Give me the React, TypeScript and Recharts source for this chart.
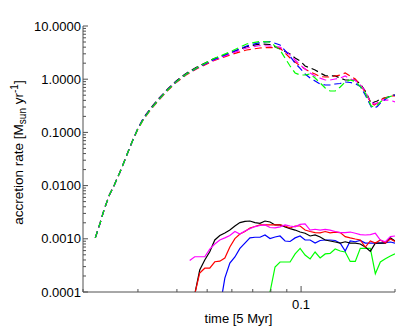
import { LineChart, Line, XAxis, YAxis } from 'recharts'

// time axis in units of 5 Myr, accretion rate in Msun/yr
const dashedTime = [
  0.0219, 0.0227, 0.0234, 0.0243, 0.0252, 0.0262, 0.027, 0.0279, 0.0289, 0.03, 0.0313, 0.0331,
  0.035, 0.0373, 0.0398, 0.0429, 0.0468, 0.0522, 0.0591, 0.0669, 0.0738, 0.0795, 0.0856,
  0.0922, 0.0957, 0.0993, 0.103, 0.1069, 0.1109, 0.1151, 0.1195, 0.1239, 0.1286, 0.1335, 0.1385,
  0.1437, 0.1492, 0.1548, 0.1606, 0.1642, 0.1679, 0.1716, 0.1755, 0.1795, 0.1849, 0.1904, 0.1962, 0.2,
]
const dashedBlack = [
  0.00104, 0.00198, 0.00363, 0.00665, 0.0103, 0.0173, 0.0266, 0.0434, 0.072, 0.12, 0.19, 0.295,
  0.435, 0.65, 0.93, 1.3, 1.74, 2.38, 3.11, 4.08, 4.59, 4.49, 3.7,
  2.98, 2.5, 2.2, 1.77, 1.63, 1.49, 1.31, 1.17, 1.15, 1.15, 1.05, 0.966,
  0.966, 0.966, 0.813, 0.6, 0.463, 0.342, 0.373, 0.389, 0.424, 0.443, 0.463, 0.505, 0.505,
]
const dashedRed = [
  0.00104, 0.00198, 0.00363, 0.00665, 0.0103, 0.0173, 0.0266, 0.0434, 0.072, 0.115, 0.178, 0.275,
  0.405, 0.607, 0.87, 1.21, 1.62, 2.2, 2.85, 3.54, 3.86, 3.95, 3.86,
  2.5, 2.11, 1.77, 1.56, 1.37, 1.25, 1.12, 1.1, 1.1, 1.15, 1.2, 1.31,
  1.15, 1.01, 0.778, 0.574, 0.443, 0.357, 0.327, 0.357, 0.406, 0.443, 0.463, 0.483, 0.483,
]
const dashedBlue = [
  0.00104, 0.00198, 0.00363, 0.00665, 0.0103, 0.0173, 0.0266, 0.0434, 0.072, 0.119, 0.184, 0.284,
  0.419, 0.627, 0.897, 1.25, 1.67, 2.3, 3.11, 4.21, 4.9, 5.11, 4.4,
  2.7, 2.0, 1.6, 1.25, 1.05, 0.925, 0.813, 0.778, 0.778, 0.813, 0.83, 0.886,
  0.868, 0.83, 0.73, 0.505, 0.389, 0.3, 0.288, 0.306, 0.357, 0.406, 0.463, 0.483, 0.505,
]
const dashedGreen = [
  0.00104, 0.00198, 0.00363, 0.00665, 0.0103, 0.0173, 0.0266, 0.0434, 0.072, 0.117, 0.18, 0.28,
  0.415, 0.62, 0.89, 1.25, 1.7, 2.4, 3.25, 4.59, 5.11, 4.99, 3.54,
  1.77, 1.31, 1.2, 1.2, 1.25, 1.05, 0.849, 0.684, 0.6, 0.6, 0.714, 0.886,
  0.966, 0.905, 0.73, 0.55, 0.406, 0.313, 0.3, 0.327, 0.373, 0.424, 0.463, 0.483, 0.505,
]
const dashedMagenta = [
  0.00104, 0.00198, 0.00363, 0.00665, 0.0103, 0.0173, 0.0266, 0.0434, 0.072, 0.119, 0.184, 0.284,
  0.419, 0.627, 0.897, 1.25, 1.67, 2.25, 2.98, 3.86, 4.3, 4.21, 4.03,
  2.85, 2.3, 1.85, 1.56, 1.31, 1.15, 1.05, 0.966, 0.966, 1.01, 1.05, 1.15,
  1.01, 0.945, 0.778, 0.6, 0.443, 0.373, 0.342, 0.357, 0.406, 0.406, 0.406, 0.389, 0.373,
]

const solidTime = [
  0.04395, 0.04561, 0.04733, 0.04912, 0.05097, 0.0529, 0.0549, 0.05697, 0.05912, 0.06136,
  0.06367, 0.06607, 0.06856, 0.07115, 0.07384, 0.07662, 0.07952, 0.08252, 0.08563, 0.08886,
  0.0922, 0.0957, 0.0993, 0.103, 0.1069, 0.1109, 0.1151, 0.1195, 0.1239, 0.1286,
  0.1335, 0.1385, 0.1437, 0.1492, 0.1548, 0.1606, 0.1667, 0.173, 0.1795, 0.1863,
  0.1933, 0.2,
]
const solidBlack = [
  null, 0.00009, 0.000259, 0.0004, 0.00057, 0.00095, 0.00115, 0.00129, 0.00146, 0.00174,
  0.00202, 0.00212, 0.00216, 0.00202, 0.00195, 0.00216, 0.00207, 0.00182, 0.00182, 0.00168,
  0.00155, 0.00146, 0.00134, 0.00127, 0.00113, 0.00118, 0.00108, 0.00095, 0.00091, 0.00087,
  0.00083, 0.00088, 0.00083, 0.00083, 0.0008, 0.0007, 0.00058, 0.00083, 0.00083, 0.00083,
  0.00104, 0.00091,
]
const solidRed = [
  null, 0.00009, 0.000228, 0.00028, 0.00028, 0.00037, 0.00038, 0.000436, 0.0007, 0.00101,
  0.00123, 0.00137, 0.0016, 0.0017, 0.00182, 0.00182, 0.00182, 0.00182, 0.00182, 0.00174,
  0.0016, 0.00174, 0.00174, 0.00146, 0.00137, 0.00131, 0.00129, 0.00137, 0.00129, 0.00134,
  0.00131, 0.0011, 0.00104, 0.00099, 0.00095, 0.0007, 0.00091, 0.00083, 0.00095, 0.00083,
  0.00099, 0.00089,
]
const solidBlue = [
  null, null, null, null, null, null, 0.00005, 0.000182, 0.00035, 0.000455,
  0.00066, 0.00083, 0.00104, 0.00107, 0.00107, 0.00118, 0.00101, 0.00108, 0.00113, 0.00091,
  0.00089, 0.00104, 0.00113, 0.00095, 0.00095, 0.00083, 0.00093, 0.00095, 0.00095, 0.00093,
  0.00083, 0.00059, 0.00091, 0.00088, 0.00093, 0.00083, 0.00083, 0.00083, 0.00083, 0.00085,
  0.00087, 0.00083,
]
const solidGreen = [
  null, null, null, null, null, null, null, null, null, null,
  null, null, null, null, null, 0.00006, 0.0001, 0.000295, 0.000366, 0.000366,
  0.000366, 0.00052, 0.00066, 0.000496, 0.000418, 0.000565, 0.000436, 0.00052, 0.00053, 0.000643,
  0.00059, 0.000565, 0.000375, 0.000375, 0.00066, 0.00066, 0.00066, 0.00022, 0.000366, 0.00042,
  0.000475, 0.00052,
]
const solidMagenta = [
  0.00039, 0.00046, 0.00046, 0.00046, 0.00064, 0.0008, 0.00095, 0.00104, 0.00115, 0.00137,
  0.00123, 0.0014, 0.00155, 0.0017, 0.00178, 0.00182, 0.00163, 0.0016, 0.00168, 0.00182,
  0.00174, 0.00168, 0.00187, 0.0019, 0.00146, 0.00151, 0.00146, 0.0015, 0.00146, 0.00137,
  0.00131, 0.00131, 0.00134, 0.00127, 0.0012, 0.00118, 0.0012, 0.00127, 0.00095, 0.00088,
  0.0011, 0.00113,
]

const xTicks = [0.02, 0.03, 0.04, 0.05, 0.06, 0.07, 0.08, 0.09, 0.1, 0.2]
const xMajor = [0.1]
const xLabels = ['0.1']
const yMajor = [0.0001, 0.001, 0.01, 0.1, 1, 10]
const yLabels = ['0.0001', '0.0010', '0.0100', '0.1000', '1.0000', '10.0000']

const yTicks: number[] = []
yMajor.forEach((d, i) => {
  yTicks.push(d)
  if (i < yMajor.length - 1) for (let k = 2; k <= 9; k++) yTicks.push(d * k)
})

const toPoints = (time: number[], vals: (number | null)[]) =>
  time.map((t, i) => ({ t, v: vals[i] }))

const AXIS = '#505050'
const FONT = '"Liberation Sans", Arial, sans-serif'

const majorIndex = (list: number[], v: number) =>
  list.findIndex(m => Math.abs(m - v) / m < 1e-6)

function LeftTick(props: any) {
  const { x, y, payload } = props
  const i = majorIndex(yMajor, payload.value)
  return (
    <g>
      <line x1={x} x2={x + (i >= 0 ? 5 : 3)} y1={y} y2={y} stroke={AXIS} />
      {i >= 0 && (
        <text x={x - 2} y={y} dy={4.6} textAnchor="end" fontSize={13} fontFamily={FONT} fill="#000">
          {yLabels[i]}
        </text>
      )}
    </g>
  )
}

function RightTick(props: any) {
  const { x, y, payload } = props
  const i = majorIndex(yMajor, payload.value)
  return <line x1={x} x2={x - (i >= 0 ? 5 : 3)} y1={y} y2={y} stroke={AXIS} />
}

function BottomTick(props: any) {
  const { x, y, payload } = props
  const i = majorIndex(xMajor, payload.value)
  return (
    <g>
      <line x1={x} x2={x} y1={y} y2={y - (i >= 0 ? 6 : 3)} stroke={AXIS} />
      {i >= 0 && (
        <text x={x} y={y + 16.5} textAnchor="middle" fontSize={13} fontFamily={FONT} fill="#000">
          {xLabels[i]}
        </text>
      )}
    </g>
  )
}

function TopTick(props: any) {
  const { x, y, payload } = props
  const i = majorIndex(xMajor, payload.value)
  return <line x1={x} x2={x} y1={y} y2={y + (i >= 0 ? 6 : 3)} stroke={AXIS} />
}

function XTitle() {
  return (
    <text x={230.5} y={315} textAnchor="middle" fontSize={13} fontFamily={FONT} fill="#000">
      time [5 Myr]
    </text>
  )
}

function YTitle() {
  return (
    <text
      x={14.5}
      y={144.5}
      textAnchor="middle"
      fontSize={13.5}
      fontFamily={FONT}
      fill="#000"
      transform="rotate(-90 14.5 144.5)"
    >
      accretion rate [M
      <tspan fontSize={10} dy={3}>sun</tspan>
      <tspan dy={-3}> yr</tspan>
      <tspan fontSize={10} dy={-5}>-1</tspan>
      <tspan dy={5}>]</tspan>
    </text>
  )
}

const dashed = [
  { name: 'black', color: '#000000', vals: dashedBlack },
  { name: 'red', color: '#ff0000', vals: dashedRed },
  { name: 'magenta', color: '#ff00ff', vals: dashedMagenta },
  { name: 'blue', color: '#0000ff', vals: dashedBlue },
  { name: 'green', color: '#00ff00', vals: dashedGreen },
]
const solid = [
  { name: 'green', color: '#00ff00', vals: solidGreen },
  { name: 'blue', color: '#0000ff', vals: solidBlue },
  { name: 'black', color: '#000000', vals: solidBlack },
  { name: 'red', color: '#ff0000', vals: solidRed },
  { name: 'magenta', color: '#ff00ff', vals: solidMagenta },
]

export default function App() {
  return (
    <LineChart width={400} height={324} margin={{ top: 18, right: 13, bottom: 0, left: 0 }}>
      <XAxis
        dataKey="t"
        type="number"
        scale="log"
        domain={[0.02, 0.2]}
        allowDataOverflow
        ticks={xTicks}
        interval={0}
        tickSize={0}
        tickMargin={0}
        tickLine={false}
        tick={<BottomTick />}
        axisLine={{ stroke: AXIS }}
        height={40}
        label={<XTitle />}
      />
      <XAxis
        xAxisId="top"
        orientation="top"
        dataKey="t"
        type="number"
        scale="log"
        domain={[0.02, 0.2]}
        allowDataOverflow
        ticks={xTicks}
        interval={0}
        tickSize={0}
        tickMargin={0}
        tickLine={false}
        tick={<TopTick />}
        axisLine={{ stroke: AXIS }}
        height={0}
      />
      <YAxis
        type="number"
        scale="log"
        domain={[0.0001, 10]}
        allowDataOverflow
        ticks={yTicks}
        interval={0}
        tickSize={0}
        tickMargin={0}
        tickLine={false}
        tick={<LeftTick />}
        axisLine={{ stroke: AXIS }}
        width={75}
        label={<YTitle />}
      />
      <YAxis
        yAxisId="right"
        orientation="right"
        type="number"
        scale="log"
        domain={[0.0001, 10]}
        allowDataOverflow
        ticks={yTicks}
        interval={0}
        tickSize={0}
        tickMargin={0}
        tickLine={false}
        tick={<RightTick />}
        axisLine={{ stroke: AXIS }}
        width={0}
      />
      {dashed.map(s => (
        <Line
          key={'d-' + s.name}
          data={toPoints(dashedTime, s.vals)}
          dataKey="v"
          stroke={s.color}
          strokeWidth={1.2}
          strokeDasharray="7 4"
          dot={false}
          isAnimationActive={false}
        />
      ))}
      {solid.map(s => (
        <Line
          key={'s-' + s.name}
          data={toPoints(solidTime, s.vals)}
          dataKey="v"
          stroke={s.color}
          strokeWidth={1.2}
          dot={false}
          isAnimationActive={false}
        />
      ))}
    </LineChart>
  )
}
